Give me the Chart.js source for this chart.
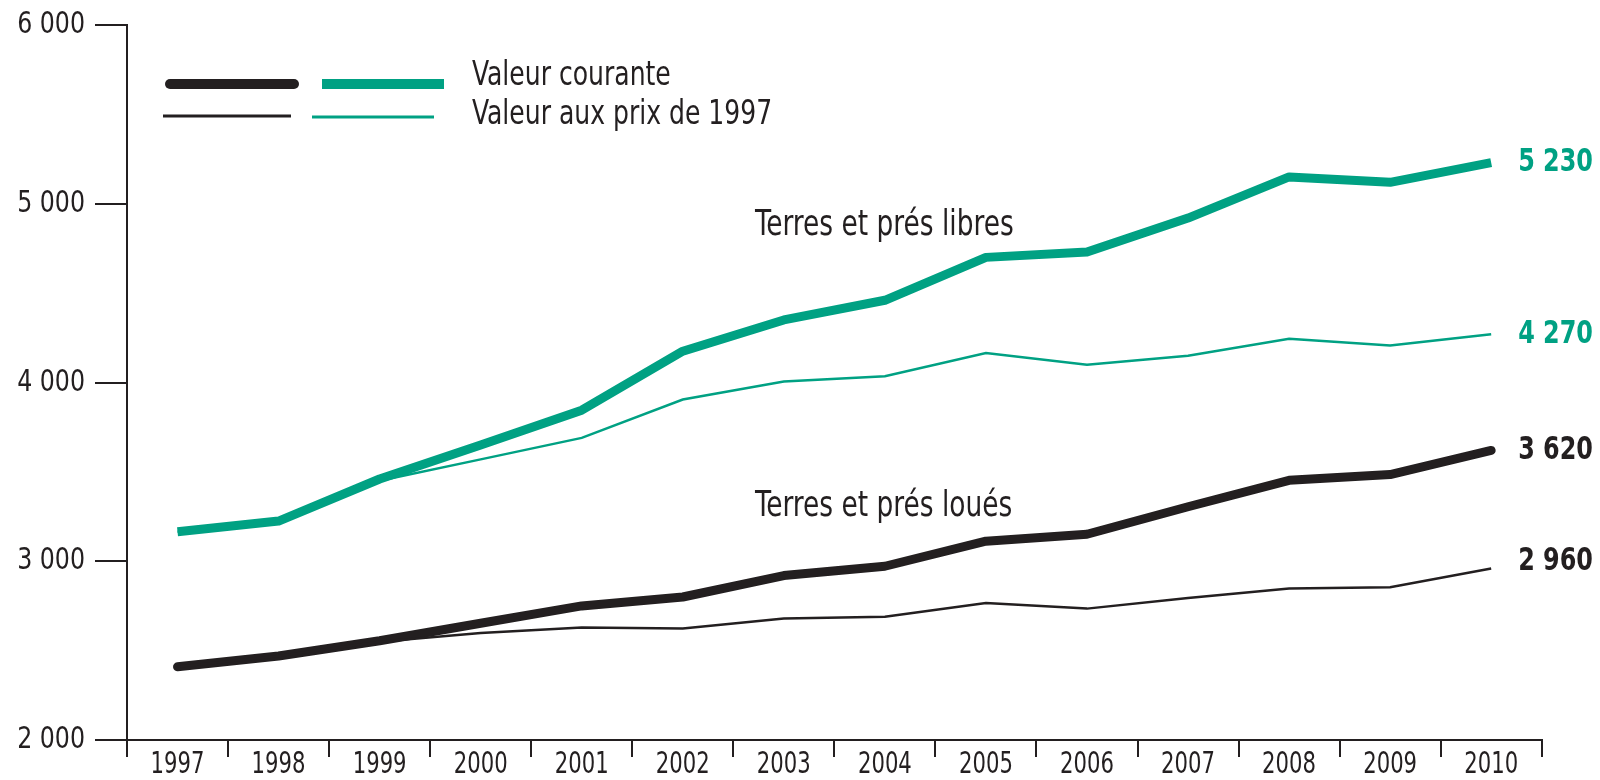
<!DOCTYPE html>
<html>
<head>
<meta charset="utf-8">
<script src="https://cdn.jsdelivr.net/npm/chart.js@4.4.1/dist/chart.umd.min.js"></script>
<style>
  html, body { margin: 0; padding: 0; background: #ffffff; }
  #wrap { width: 1600px; height: 780px; }
</style>
</head>
<body>
<div id="wrap"><canvas id="c" width="1600" height="780"></canvas></div>
<script>
// ---- data ----
const years = ['1997','1998','1999','2000','2001','2002','2003','2004','2005','2006','2007','2008','2009','2010'];
const libresCourante = [3165, 3225, 3460, 3650, 3845, 4175, 4350, 4460, 4700, 4730, 4920, 5150, 5120, 5230];
const libresPrix1997 = [3165, 3225, 3450, 3570, 3690, 3905, 4005, 4035, 4165, 4100, 4150, 4245, 4207, 4270];
const louesCourante  = [2410, 2470, 2555, 2653, 2750, 2800, 2920, 2972, 3112, 3151, 3305, 3453, 3485, 3620];
const louesPrix1997  = [2410, 2470, 2550, 2598, 2630, 2624, 2680, 2690, 2767, 2735, 2795, 2847, 2855, 2960];
const yTicks = [2000, 3000, 4000, 5000, 6000];
const endLabels = ['5 230', '4 270', '3 620', '2 960'];
const legendLabels = ['Valeur courante', 'Valeur aux prix de 1997'];
const groupLabels = ['Terres et prés libres', 'Terres et prés loués'];

const TEAL = '#00a183';
const DARK = '#231f20';
const FONT = "'Liberation Sans Narrow', 'DejaVu Sans Condensed', 'Liberation Sans', sans-serif";

function fmt(v) { return String(v).replace(/\B(?=(\d{3})+(?!\d))/g, ' '); }

// draw horizontally condensed text
function ctext(ctx, text, x, y, align, sx) {
  ctx.save();
  ctx.translate(x, y);
  ctx.scale(sx, 1);
  ctx.textAlign = align;
  ctx.textBaseline = 'middle';
  ctx.fillText(text, 0, 0);
  ctx.restore();
}

const overlay = {
  id: 'overlay',
  afterDraw(chart) {
    const ctx = chart.ctx;
    const xs = chart.scales.x, ys = chart.scales.y;
    ctx.save();
    // axis tick labels
    ctx.fillStyle = DARK;
    ctx.font = '31px ' + FONT;
    ys.ticks.forEach((t, i) => {
      ctext(ctx, fmt(t.value), 85, ys.getPixelForTick(i), 'right', 0.85);
    });
    xs.ticks.forEach((t, i) => {
      ctext(ctx, years[t.value], xs.getPixelForTick(i), 765, 'center', 0.76);
    });

    // legend swatches
    ctx.lineCap = 'round';
    ctx.strokeStyle = DARK; ctx.lineWidth = 10;
    ctx.beginPath(); ctx.moveTo(170, 84); ctx.lineTo(294, 84); ctx.stroke();
    ctx.lineCap = 'butt';
    ctx.strokeStyle = TEAL; ctx.lineWidth = 10;
    ctx.beginPath(); ctx.moveTo(322, 84); ctx.lineTo(444, 84); ctx.stroke();
    ctx.strokeStyle = DARK; ctx.lineWidth = 3;
    ctx.beginPath(); ctx.moveTo(163, 116); ctx.lineTo(291, 116); ctx.stroke();
    ctx.strokeStyle = TEAL; ctx.lineWidth = 3;
    ctx.beginPath(); ctx.moveTo(312, 117); ctx.lineTo(434, 117); ctx.stroke();

    ctx.fillStyle = DARK;
    ctx.font = '34px ' + FONT;
    ctext(ctx, legendLabels[0], 472, 76, 'left', 0.82);
    ctext(ctx, legendLabels[1], 472, 115, 'left', 0.82);

    // group labels
    ctx.font = '35px ' + FONT;
    ctext(ctx, groupLabels[0], 755, 226, 'left', 0.84);
    ctext(ctx, groupLabels[1], 755, 507, 'left', 0.84);

    // end labels
    const last = years.length - 1;
    const lx = xs.getPixelForValue(last) + 27;
    ctx.font = 'bold 32px ' + FONT;
    const series = [libresCourante, libresPrix1997, louesCourante, louesPrix1997];
    const cols = [TEAL, TEAL, DARK, DARK];
    const dy = [0, 0, 0, -7];
    series.forEach((s, i) => {
      ctx.fillStyle = cols[i];
      ctext(ctx, endLabels[i], lx, ys.getPixelForValue(s[last]) + dy[i], 'left', 0.83);
    });
    ctx.restore();
  }
};

new Chart(document.getElementById('c'), {
  type: 'line',
  data: {
    labels: years,
    datasets: [
      { label: 'Loués 1997', data: louesPrix1997, borderColor: DARK, borderWidth: 2.5, pointRadius: 0, tension: 0 },
      { label: 'Libres 1997', data: libresPrix1997, borderColor: TEAL, borderWidth: 2.5, pointRadius: 0, tension: 0 },
      { label: 'Loués courante', data: louesCourante, borderColor: DARK, borderWidth: 9, pointRadius: 0, tension: 0, borderCapStyle: 'round', borderJoinStyle: 'round' },
      { label: 'Libres courante', data: libresCourante, borderColor: TEAL, borderWidth: 9, pointRadius: 0, tension: 0, borderCapStyle: 'butt', borderJoinStyle: 'round' }
    ]
  },
  options: {
    responsive: false,
    animation: false,
    devicePixelRatio: 1,
    layout: { padding: { left: 0, top: 25, right: 58.3, bottom: 0 } },
    plugins: { legend: { display: false }, tooltip: { enabled: false } },
    scales: {
      x: {
        type: 'category',
        offset: true,
        grid: { offset: true, drawOnChartArea: false, drawTicks: true, tickLength: 17, color: DARK, lineWidth: 2 },
        border: { display: true, color: DARK, width: 2 },
        ticks: { display: false, autoSkip: false, maxRotation: 0 },
        afterFit(s) { s.height = 40; }
      },
      y: {
        min: 2000, max: 6000,
        afterBuildTicks(s) { s.ticks = yTicks.map(v => ({ value: v })); },
        grid: { drawOnChartArea: false, drawTicks: true, tickLength: 32, color: DARK, lineWidth: 2 },
        border: { display: true, color: DARK, width: 2 },
        ticks: { display: false },
        afterFit(s) { s.width = 127; }
      }
    }
  },
  plugins: [overlay]
});
</script>
</body>
</html>
